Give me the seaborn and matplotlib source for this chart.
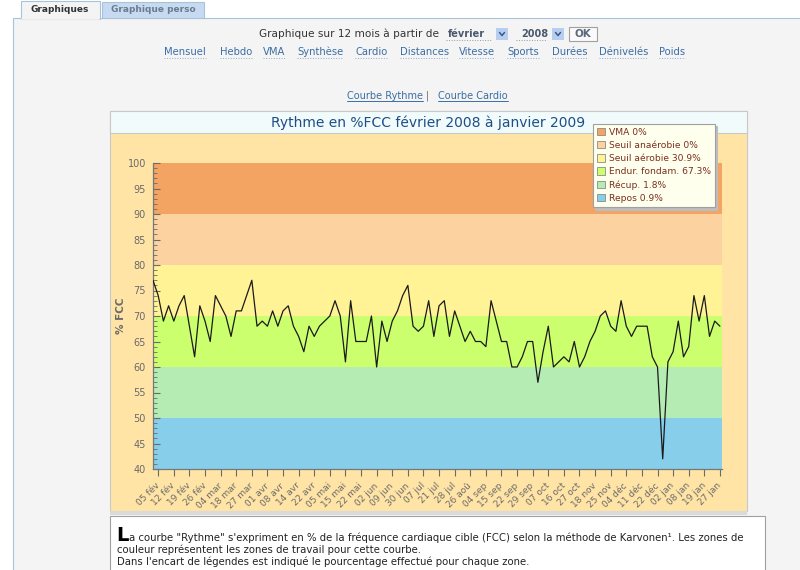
import matplotlib
matplotlib.use("Agg")
import matplotlib.pyplot as plt
import seaborn as sns
import pandas as pd
from matplotlib.patches import Rectangle, Patch
from matplotlib.lines import Line2D

# ---------------- data ----------------
rythme = [77, 74, 69, 72, 69, 72, 74, 68, 62, 72,
          69, 65, 74, 72, 70, 66, 71, 71, 74, 77,
          68, 69, 68, 71, 68, 71, 72, 68, 66, 63,
          68, 66, 68, 69, 70, 73, 70, 61, 73, 65,
          65, 65, 70, 60, 69, 65, 69, 71, 74, 76,
          68, 67, 68, 73, 66, 72, 73, 66, 71, 68,
          65, 67, 65, 65, 64, 73, 69, 65, 65, 60,
          60, 62, 65, 65, 57, 63, 68, 60, 61, 62,
          61, 65, 60, 62, 65, 67, 70, 71, 68, 67,
          73, 68, 66, 68, 68, 68, 62, 60, 42, 61,
          63, 69, 62, 64, 74, 69, 74, 66, 69, 68]

tick_labels = ["05 fév", "12 fév", "19 fév", "26 fév", "04 mar", "18 mar", "27 mar",
               "01 avr", "08 avr", "14 avr", "22 avr", "05 mai", "15 mai", "22 mai",
               "02 jun", "09 jun", "30 jun", "07 jul", "21 jul", "28 jul", "26 aoû",
               "04 sep", "15 sep", "22 sep", "29 sep", "07 oct", "16 oct", "27 oct",
               "18 nov", "25 nov", "04 déc", "11 déc", "22 déc", "02 jan", "08 jan",
               "19 jan", "27 jan"]

zone_labels = ["VMA 0%", "Seuil anaérobie 0%", "Seuil aérobie 30.9%",
               "Endur. fondam. 67.3%", "Récup. 1.8%", "Repos 0.9%"]
zone_low = [90, 80, 70, 60, 50, 40]
zone_high = [100, 90, 80, 70, 60, 50]
zone_colors = ["#F3A362", "#FCD2A0", "#FFF396", "#CCFF6E", "#B4ECB4", "#87CEEB"]

nav_links = ["Mensuel", "Hebdo", "VMA", "Synthèse", "Cardio", "Distances",
             "Vitesse", "Sports", "Durées", "Dénivelés", "Poids"]

# ---------------- figure ----------------
sns.set_style("white")
plt.rcParams["font.family"] = ["DejaVu Sans"]

W, H = 800, 570
fig = plt.figure(figsize=(8, 5.7), dpi=100)
fig.patch.set_facecolor("white")


def X(x):
    return x / W


def Y(y):
    return 1 - y / H


def box(x0, y0, x1, y1, fc, ec="none", lw=0.8, z=-10):
    r = Rectangle((X(x0), Y(y1)), (x1 - x0) / W, (y1 - y0) / H,
                  transform=fig.transFigure, facecolor=fc, edgecolor=ec,
                  linewidth=lw, zorder=z)
    fig.add_artist(r)
    return r


def line(xs, ys, color, ls="-", lw=0.8, z=-5):
    fig.add_artist(Line2D([X(v) for v in xs], [Y(v) for v in ys],
                          transform=fig.transFigure, color=color,
                          linestyle=ls, linewidth=lw, zorder=z))


def txt(x, y, s, **kw):
    return fig.text(X(x), Y(y), s, **kw)


# page panel and tabs
box(13, 18, 805, 575, "#F4F4F4", ec="#A9C1D9", z=-20)
box(102, 2, 204, 18, "#C6DBF1", ec="#A9C1D9", z=-15)
box(21, 1, 100, 19, "#F4F4F4", ec="#A9C1D9", z=-15)
line([21.6, 99.4], [18.6, 18.6], "#F4F4F4", lw=1.2, z=-14)
txt(60, 10, "Graphiques", ha="center", va="center", fontsize=6.5,
    fontweight="bold", color="#333333")
txt(153, 10, "Graphique perso", ha="center", va="center", fontsize=6.5,
    fontweight="bold", color="#6B7C8E")

# period selector
txt(259, 34, "Graphique sur 12 mois à partir de", ha="left", va="center",
    fontsize=7.6, color="#333333")
txt(448, 34, "février", ha="left", va="center", fontsize=7,
    fontweight="bold", color="#4A5A6E")
line([446, 491], [40, 40], "#999999", ls=":", lw=0.7)
txt(521, 34, "2008", ha="left", va="center", fontsize=7,
    fontweight="bold", color="#4A5A6E")
line([516, 547], [40, 40], "#999999", ls=":", lw=0.7)
for ax0 in (496, 552):
    box(ax0, 28, ax0 + 12, 40, "#B7CEF0", z=-8)
    line([ax0 + 3.5, ax0 + 6, ax0 + 8.5], [32.5, 35.5, 32.5], "#3A5A8A", lw=1.1, z=-7)
box(569, 27, 597, 41, "#FAFAFA", ec="#A0A0A0", z=-8)
txt(583, 34, "OK", ha="center", va="center", fontsize=7.5,
    fontweight="bold", color="#5A6A7E")

# navigation links
link_x = [164, 220, 263, 297, 355, 400, 459, 507, 552, 599, 659]
for lx, name in zip(link_x, nav_links):
    t = txt(lx, 52, name, ha="left", va="center", fontsize=7.2, color="#3A6EA5")
fig.canvas.draw()
r = fig.canvas.get_renderer()
for t in fig.texts[-len(nav_links):]:
    bb = t.get_window_extent(r)
    line([bb.x0, bb.x1], [58, 58], "#8FA8C8", ls=":", lw=0.7)

t1 = txt(347, 96, "Courbe Rythme", ha="left", va="center", fontsize=7, color="#3A6EA5")
txt(426, 96, "|", ha="left", va="center", fontsize=7, color="#666666")
t2 = txt(438, 96, "Courbe Cardio", ha="left", va="center", fontsize=7, color="#3A6EA5")
fig.canvas.draw()
for t in (t1, t2):
    bb = t.get_window_extent(fig.canvas.get_renderer())
    line([bb.x0, bb.x1], [101, 101], "#3A6EA5", lw=0.7)

# chart frame
box(110, 111, 747, 511, "#FFE4A6", ec="#C8C8C8", z=-9)
box(110, 111, 747, 133, "#F1FBFB", ec="#C8C8C8", z=-8)
box(110, 511, 747, 515, "#DADADA", z=-8)
txt(428.5, 123, "Rythme en %FCC février 2008 à janvier 2009", ha="center",
    va="center", fontsize=10, color="#1E4E86")

# plot
ax = fig.add_axes([X(153), Y(469), (722 - 153) / W, (469 - 163) / H])
ax.set_facecolor("#FFE4A6")
for lo, hi, c in zip(zone_low, zone_high, zone_colors):
    ax.axhspan(lo, hi, color=c, lw=0, zorder=0)

df = pd.DataFrame({"idx": range(len(rythme)), "fcc": rythme})
sns.lineplot(data=df, x="idx", y="fcc", ax=ax, color="#1A1A1A",
             linewidth=0.9, zorder=3)

ax.set_xlim(0, len(rythme) - 1 + 0.4)
ax.set_ylim(40, 100)
ticks = list(range(1, len(rythme), 3))
ax.set_xticks(ticks)
ax.set_xticklabels(tick_labels, rotation=45, ha="right", va="center",
                   rotation_mode="anchor", fontsize=6.5, color="#6A6A6A")
ax.set_yticks(range(40, 101, 5))
ax.set_yticks(range(40, 101), minor=True)
ax.tick_params(axis="y", which="major", direction="in", length=5, width=0.8,
               color="#6A6A6A", labelsize=7, labelcolor="#6A6A6A", pad=5, left=True)
ax.tick_params(axis="y", which="minor", direction="in", length=3, width=0.6,
               color="#6A6A6A", left=True)
ax.tick_params(axis="x", direction="out", length=5, width=0.8,
               color="#6A6A6A", pad=6, bottom=True)
for s in ("top", "right"):
    ax.spines[s].set_visible(False)
for s in ("left", "bottom"):
    ax.spines[s].set_color("#777777")
    ax.spines[s].set_linewidth(0.9)
ax.set_xlabel("")
ax.set_ylabel("% FCC", fontsize=7.5, color="#6A6A6A", fontweight="bold")
ax.yaxis.set_label_coords(-0.047, 0.5)

# legend
handles = [Patch(facecolor=c, edgecolor="#8A8A8A", linewidth=0.6, label=n)
           for c, n in zip(zone_colors, zone_labels)]
leg = fig.legend(handles=handles, loc="upper left",
                 bbox_to_anchor=(X(592.5), Y(123.5)),
                 bbox_transform=fig.transFigure, fontsize=6.6,
                 labelcolor="#7B2E1E", frameon=True, fancybox=False,
                 shadow={"color": "#BDBDBD", "alpha": 1},
                 borderpad=0.45, labelspacing=0.45, handlelength=0.9,
                 handleheight=0.9, handletextpad=0.4, borderaxespad=0)
leg.get_frame().set_facecolor("#FFFFEE")
leg.get_frame().set_edgecolor("#A0A0A0")
leg.get_frame().set_linewidth(0.8)
leg.get_frame().set_alpha(1)

# explanation box
box(110, 516, 765, 575, "white", ec="#A0A0A0", z=-8)
txt(116, 541, "L", ha="left", va="baseline", fontsize=14, fontweight="bold", color="black")
txt(129, 541, "a courbe \"Rythme\" s'expriment en % de la fréquence cardiaque cible "
    "(FCC) selon la méthode de Karvonen¹. Les zones de",
    ha="left", va="baseline", fontsize=7.3, color="#222222")
txt(117, 553, "couleur représentent les zones de travail pour cette courbe.",
    ha="left", va="baseline", fontsize=7.3, color="#222222")
txt(117, 565, "Dans l'encart de légendes est indiqué le pourcentage effectué pour chaque zone.",
    ha="left", va="baseline", fontsize=7.3, color="#222222")

fig.savefig("out.png", dpi=100)
